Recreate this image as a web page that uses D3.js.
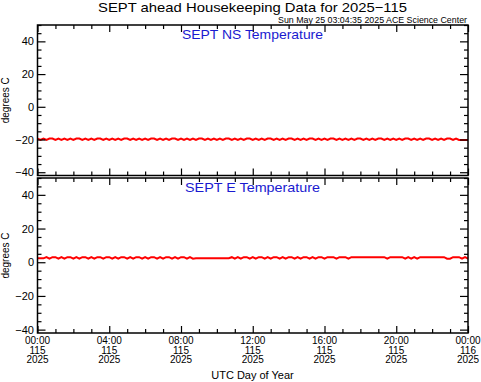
<!DOCTYPE html>
<html><head><meta charset="utf-8">
<script src="https://cdn.jsdelivr.net/npm/d3@7"></script>
<style>body{margin:0;background:#fff}svg{display:block}text{font-family:"Liberation Sans",Arial,sans-serif}</style>
</head><body><svg id="c" width="481" height="382"></svg>
<script>
// ---- data ----
const titleText = "SEPT ahead Housekeeping Data for 2025\u2212115";
const stampText = "Sun May 25 03:04:35 2025 ACE Science Center";
const panelTitles = ["SEPT NS Temperature", "SEPT E Temperature"];
const yLabel = "degrees C";
const xLabel = "UTC Day of Year";
const yDomain = [-42, 50];
const yMajorTicks = [-40, -20, 0, 20, 40];
const xTickHours = [0, 4, 8, 12, 16, 20, 24];
const xTickLabels = [["00:00","115","2025"],["04:00","115","2025"],["08:00","115","2025"],["12:00","115","2025"],["16:00","115","2025"],["20:00","115","2025"],["00:00","116","2025"]];
const stepMinutes = 10;
const nsValues = [
 -19.4,-20.3,-19.4,-20.3,-19.4,-19.4,-20.3,-19.4,-20.3,-19.4,-20.3,-19.4,
 -20.3,-19.4,-19.4,-20.3,-19.4,-20.3,-19.4,-20.3,-19.4,-19.4,-20.3,-19.4,
 -20.3,-19.4,-20.3,-19.4,-20.3,-19.4,-19.4,-20.3,-19.4,-20.3,-19.4,-20.3,
 -19.4,-20.3,-19.4,-19.4,-20.3,-19.4,-20.3,-19.4,-20.3,-19.4,-19.4,-20.3,
 -19.4,-20.3,-19.4,-20.3,-19.4,-20.3,-19.4,-19.4,-20.3,-19.4,-20.3,-19.4,
 -20.3,-19.4,-20.3,-19.4,-19.4,-20.3,-19.4,-20.3,-19.4,-20.3,-19.4,-19.4,
 -20.3,-19.4,-20.3,-19.4,-20.3,-19.4,-19.4,-20.3,-19.4,-20.3,-19.4,-20.3,
 -19.4,-19.4,-20.3,-19.4,-20.3,-19.4,-20.3,-19.4,-19.4,-20.3,-19.4,-20.3,
 -19.4,-20.3,-19.4,-19.4,-20.3,-19.4,-20.3,-19.4,-20.3,-19.4,-20.3,-19.4,
 -19.4,-20.3,-19.4,-20.3,-19.4,-20.3,-19.4,-19.4,-20.3,-19.4,-20.3,-19.4,
 -20.3,-19.4,-20.3,-19.4,-19.4,-20.3,-19.4,-20.3,-19.4,-20.3,-19.4,-19.4,
 -20.3,-19.4,-20.3,-19.4,-20.3,-19.4,-19.4,-20.3,-19.4,-20.3,-20.3,-20.3,
 -20.3
];
const eValues = [
 2.3,2.3,2.3,3.0,2.1,3.0,3.0,2.1,3.0,2.1,3.0,3.0,
 2.1,3.0,2.1,3.0,3.0,2.1,3.0,2.1,3.0,3.0,2.1,3.0,
 3.0,2.1,3.0,2.1,3.0,3.0,2.1,3.0,2.1,3.0,3.0,2.1,
 3.0,2.1,3.0,3.0,2.1,3.0,2.1,3.0,3.0,2.1,3.0,2.1,
 3.0,3.0,2.1,3.0,2.1,2.4,null,null,null,null,null,null,
 null,null,null,null,2.4,3.0,2.1,3.0,2.1,3.0,3.0,2.1,
 3.0,2.1,3.0,3.0,2.1,3.0,2.1,3.0,3.0,2.1,3.0,2.1,
 3.0,3.0,2.1,3.0,2.1,3.0,3.0,2.1,3.0,2.1,3.0,3.0,
 2.1,3.0,3.0,3.0,2.1,3.0,3.0,3.0,2.1,3.0,3.0,3.0,
 3.0,3.0,3.0,3.0,3.0,3.0,3.0,3.0,3.0,2.1,3.0,3.0,
 3.0,3.0,3.0,2.1,3.0,2.1,3.0,2.1,3.0,3.0,3.0,3.0,
 3.0,3.0,3.0,3.0,3.0,2.1,2.1,3.0,3.0,3.0,2.1,3.0,
 2.1
];

// ---- layout ----
const svg = d3.select("#c");
const L = 37.5, R = 468;
const panels = [{top:25, bottom:175.5, values:nsValues, tw:141}, {top:178, bottom:333, values:eValues, tw:135}];
const x = d3.scaleLinear().domain([0,24]).range([L,R]);
const minorY = d3.range(-40, 51, 5).filter(v => !yMajorTicks.includes(v));
const minorX = d3.range(0, 25, 1).filter(v => !xTickHours.includes(v));
const red = "#ff0000", blue = "#1a1ad0";

svg.append("text").attr("x", 252.5).attr("y", 12).attr("text-anchor","middle")
  .attr("font-size", 13).attr("textLength", 309).attr("lengthAdjust","spacingAndGlyphs").text(titleText);
svg.append("text").attr("x", 467).attr("y", 22.5).attr("text-anchor","end")
  .attr("font-size", 8.5).attr("textLength", 189).attr("lengthAdjust","spacingAndGlyphs").text(stampText);

panels.forEach((p, i) => {
  const y = d3.scaleLinear().domain(yDomain).range([p.bottom, p.top]);
  const g = svg.append("g");
  // data line
  const pts = p.values.map((v, k) => ({h: k*stepMinutes/60, v})).filter(d => d.v !== null);
  g.append("path").datum(pts).attr("fill","none").attr("stroke", red).attr("stroke-width", 2)
    .attr("d", d3.line().x(d => x(d.h)).y(d => y(d.v)));
  // axes
  const ax = (gen) => g.append("g").call(gen).call(s => s.select(".domain").remove()).call(s => s.selectAll("line").attr("stroke","#000").attr("stroke-width",1.2));
  ax(d3.axisLeft(y).tickValues(yMajorTicks).tickSize(-8).tickFormat("")).attr("transform",`translate(${L},0)`);
  ax(d3.axisLeft(y).tickValues(minorY).tickSize(-4).tickFormat("")).attr("transform",`translate(${L},0)`);
  ax(d3.axisRight(y).tickValues(yMajorTicks).tickSize(-8).tickFormat("")).attr("transform",`translate(${R},0)`);
  ax(d3.axisRight(y).tickValues(minorY).tickSize(-4).tickFormat("")).attr("transform",`translate(${R},0)`);
  ax(d3.axisBottom(x).tickValues(xTickHours).tickSize(-7).tickFormat("")).attr("transform",`translate(0,${p.bottom})`);
  ax(d3.axisBottom(x).tickValues(minorX).tickSize(-4).tickFormat("")).attr("transform",`translate(0,${p.bottom})`);
  ax(d3.axisTop(x).tickValues(xTickHours).tickSize(-7).tickFormat("")).attr("transform",`translate(0,${p.top})`);
  ax(d3.axisTop(x).tickValues(minorX).tickSize(-4).tickFormat("")).attr("transform",`translate(0,${p.top})`);
  // frame
  g.append("rect").attr("x", L).attr("y", p.top).attr("width", R-L).attr("height", p.bottom-p.top)
    .attr("fill","none").attr("stroke","#000").attr("stroke-width",1.5);
  // y tick labels
  g.selectAll("text.yl").data(yMajorTicks).join("text").attr("class","yl")
    .attr("x", 34).attr("y", d => y(d) + 4).attr("text-anchor","end").attr("font-size", 11)
    .text(d => d3.format("d")(d));
  // y label
  g.append("text").attr("transform", `translate(9,${(p.top+p.bottom)/2}) rotate(-90)`)
    .attr("text-anchor","middle").attr("font-size", 10).text(yLabel);
  // panel title
  g.append("text").attr("x", 252.5).attr("y", p.top + 14).attr("text-anchor","middle")
    .attr("font-size", 13).attr("fill", blue).attr("textLength", p.tw).attr("lengthAdjust","spacingAndGlyphs")
    .text(panelTitles[i]);
});

// x tick labels under bottom panel
const xl = svg.append("g");
xTickHours.forEach((h, i) => {
  xTickLabels[i].forEach((s, j) => {
    xl.append("text").attr("x", x(h)).attr("y", 344 + j*9.5).attr("text-anchor","middle")
      .attr("font-size", 10).text(s);
  });
});
svg.append("text").attr("x", 252.5).attr("y", 379).attr("text-anchor","middle").attr("font-size", 11).text(xLabel);
</script></body></html>
